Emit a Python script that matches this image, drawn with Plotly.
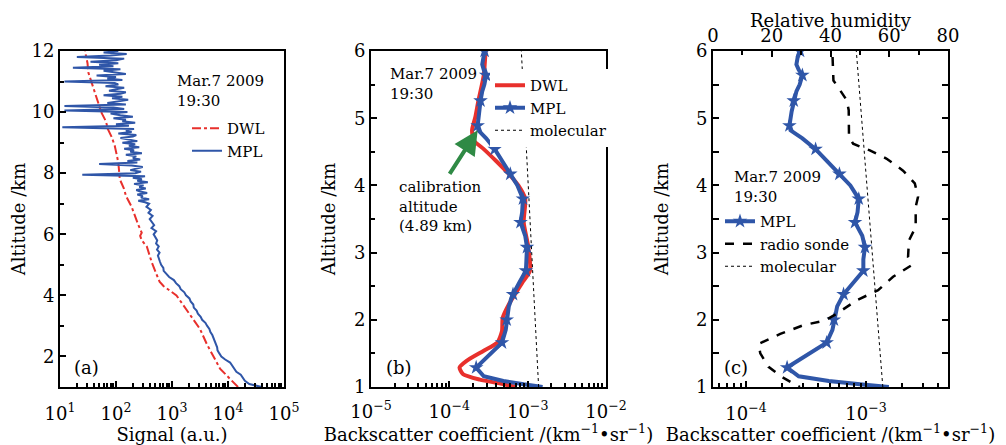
import numpy as np
import plotly.graph_objects as go

FONT = "DejaVu Serif"
RED = "#e8302c"
BLUE = "#2f56a8"
GREEN = "#2f8a45"

# ---------------- Panel (a): raw signals ----------------
alt_a = np.round(np.concatenate([np.arange(1.0, 7.0001, 0.1), np.arange(7.05, 12.0001, 0.05)]), 2)
mpl_signal_a = [
    # 1.0 - 5.0 km (0.1 km)
    39800, 24000, 20000, 18600, 16900, 14100, 12900, 11500, 10900, 8900,
    7600, 7000, 6500, 6400, 6100, 5950, 5550, 5250, 4850, 4650,
    4250, 3950, 3450, 3250, 2900, 2750, 2450, 2400, 2150, 2050,
    1780, 1660, 1430, 1350, 1180, 1080, 890, 810, 710, 700,
    640,
    # 5.1 - 7.0 km (0.1 km)
    610, 590, 560, 600, 540, 580, 520, 545, 500, 470,
    520, 430, 480, 440, 400, 450, 380, 420, 350, 390,
    # 7.05 - 12.0 km (0.05 km)
    330, 250, 390, 280, 300, 240, 360, 270, 230, 340,
    260, 310, 210, 370, 240, 290, 200, 330, 25, 220,
    280, 180, 250, 300, 190, 50, 240, 160, 270, 200,
    230, 150, 290, 180, 210, 140, 260, 170, 220, 130,
    240, 160, 120, 200, 230, 110, 190, 150, 210, 11,
    170, 100, 220, 130, 150, 90, 200, 120, 80, 160,
    12, 140, 90, 12, 150, 70, 110, 165, 85, 130,
    60, 120, 150, 75, 100, 140, 65, 110, 95, 12,
    130, 70, 100, 45, 150, 85, 60, 120, 17, 90,
    50, 110, 35, 100, 140, 20, 80, 155, 60, 110,
]
dwl_alt_a = [1.0, 1.25, 1.47, 1.6, 1.8, 2.0, 2.4, 2.9, 3.55, 4.0, 4.3, 4.45, 4.65,
             5.07, 5.6, 5.8, 5.95, 6.05, 6.3, 6.6, 6.9, 7.25, 7.5, 7.8, 8.1, 8.35,
             8.9, 9.2, 9.43, 9.7, 9.98, 10.5, 10.8, 11.07, 11.3, 11.6, 12.0]
dwl_signal_a = [15100, 11000, 8300, 7200, 6300, 5500, 4200, 3160, 1820, 1200, 710, 600, 540,
                437, 355, 288, 270, 288, 251, 219, 190, 151, 138, 117, 115, 110,
                95, 83, 72, 66, 55, 45, 40, 35, 32, 31, 28]

# ---------------- Panels (b), (c): backscatter ----------------
mpl_alt = [6.00, 5.90, 5.80, 5.72, 5.64, 5.50, 5.40, 5.26, 5.10, 4.89, 4.82, 4.70,
           4.54, 4.35, 4.17, 4.00, 3.80, 3.60, 3.45, 3.25, 3.08, 2.90, 2.73, 2.55,
           2.38, 2.20, 2.00, 1.85, 1.66, 1.50, 1.29, 1.16, 1.09, 1.04, 1.00]
mpl_beta = [2.82e-4, 2.69e-4, 2.63e-4, 2.75e-4, 2.95e-4, 2.8e-4, 2.63e-4, 2.5e-4, 2.4e-4,
            2.3e-4, 2.35e-4, 2.95e-4, 3.8e-4, 4.8e-4, 6.0e-4, 7.4e-4, 8.7e-4, 8.5e-4,
            8.1e-4, 9.3e-4, 9.8e-4, 9.5e-4, 9.5e-4, 7.8e-4, 6.5e-4, 5.75e-4, 5.4e-4,
            5.25e-4, 4.7e-4, 3.4e-4, 2.2e-4, 2.75e-4, 4.9e-4, 8.9e-4, 1.55e-3]
mpl_star_alt = [6.00, 5.64, 5.26, 4.89, 4.54, 4.17, 3.80, 3.45, 3.08, 2.73, 2.38,
                2.00, 1.66, 1.29]

dwl_alt = [6.00, 5.64, 5.26, 5.02, 4.82, 4.67, 4.54, 4.37, 4.17, 4.00, 3.80, 3.45,
           3.08, 2.73, 2.55, 2.38, 2.23, 2.03, 1.83, 1.66, 1.54, 1.39, 1.29, 1.19,
           1.11, 1.05, 1.00]
dwl_beta = [2.9e-4, 2.75e-4, 2.35e-4, 2.15e-4, 1.95e-4, 2.05e-4, 2.75e-4, 3.9e-4,
            5.75e-4, 7.6e-4, 9.3e-4, 8.9e-4, 1.02e-3, 1.07e-3, 8.5e-4, 6.9e-4,
            5.75e-4, 4.8e-4, 4.7e-4, 4.1e-4, 2.75e-4, 1.66e-4, 1.35e-4, 1.5e-4,
            2.45e-4, 4.5e-4, 7.1e-4]

mol_alt = [1, 2, 3, 4, 5, 6]
mol_beta = [1.38e-3, 1.25e-3, 1.13e-3, 1.02e-3, 9.2e-4, 8.3e-4]

rh_alt = [5.91, 5.56, 5.46, 5.27, 5.12, 4.72, 4.62, 4.52, 4.40, 4.22, 4.03, 3.83,
          3.68, 3.38, 3.18, 2.93, 2.81, 2.64, 2.44, 2.29, 2.09, 1.99, 1.92, 1.79,
          1.64, 1.50, 1.30, 1.15, 1.05, 1.00]
rh_val = [40.7, 41.0, 42.6, 45.5, 46.2, 46.3, 47.7, 53.4, 59.0, 64.7, 68.7, 69.8,
          69.0, 69.0, 66.7, 66.4, 67.5, 61.3, 56.2, 48.9, 42.1, 38.1, 30.8, 22.9,
          15.5, 16.1, 18.9, 23.4, 27.4, 29.6]

sig_ticks = [1e1, 1e2, 1e3, 1e4, 1e5]
sig_ticktext = ["10<sup>1</sup>", "10<sup>2</sup>", "10<sup>3</sup>", "10<sup>4</sup>", "10<sup>5</sup>"]
beta_ticks = [1e-5, 1e-4, 1e-3, 1e-2]
beta_ticktext = ["10<sup>−5</sup>", "10<sup>−4</sup>", "10<sup>−3</sup>", "10<sup>−2</sup>"]

star_idx = [i for i, a in enumerate(mpl_alt) if a in mpl_star_alt]
star_style = dict(marker=dict(symbol="star", size=11, color=BLUE),
                  selectedpoints=star_idx,
                  selected=dict(marker=dict(opacity=1)),
                  unselected=dict(marker=dict(opacity=0)))

fig = go.Figure()

# (a)
fig.add_trace(go.Scatter(x=dwl_signal_a, y=dwl_alt_a, mode="lines", name="DWL",
                         line=dict(color=RED, width=2, dash="dashdot"),
                         xaxis="x", yaxis="y", legend="legend"))
fig.add_trace(go.Scatter(x=mpl_signal_a, y=alt_a, mode="lines", name="MPL",
                         line=dict(color=BLUE, width=2),
                         xaxis="x", yaxis="y", legend="legend"))

# (b)
fig.add_trace(go.Scatter(x=dwl_beta, y=dwl_alt, mode="lines", name="DWL",
                         line=dict(color=RED, width=4, shape="spline", smoothing=0.6),
                         xaxis="x2", yaxis="y2", legend="legend2"))
fig.add_trace(go.Scatter(x=mpl_beta, y=mpl_alt, mode="lines+markers", name="MPL",
                         line=dict(color=BLUE, width=4), **star_style,
                         xaxis="x2", yaxis="y2", legend="legend2"))
fig.add_trace(go.Scatter(x=mol_beta, y=mol_alt, mode="lines", name="molecular",
                         line=dict(color="black", width=1, dash="dot"),
                         xaxis="x2", yaxis="y2", legend="legend2"))

# (c)
fig.add_trace(go.Scatter(x=mpl_beta, y=mpl_alt, mode="lines+markers", name="MPL",
                         line=dict(color=BLUE, width=4), **star_style,
                         xaxis="x3", yaxis="y3", legend="legend3"))
fig.add_trace(go.Scatter(x=rh_val, y=rh_alt, mode="lines", name="radio sonde",
                         line=dict(color="black", width=2.5, dash="dash"),
                         xaxis="x4", yaxis="y3", legend="legend3"))
fig.add_trace(go.Scatter(x=mol_beta, y=mol_alt, mode="lines", name="molecular",
                         line=dict(color="black", width=1, dash="dot"),
                         xaxis="x3", yaxis="y3", legend="legend3"))

# page body adds an 8 px margin; figure positions are given in window pixels
OFF = 8
W, H = 1006 - OFF, 445 - OFF


def X(sx):
    return (sx - OFF) / W


def Y(sy):
    return 1 - (sy - OFF) / H


YDOM = [Y(387), Y(51)]
tickfont = dict(family=FONT, size=18, color="black")
titlefont = dict(family=FONT, size=18, color="black")

common = dict(showline=True, linecolor="black", linewidth=2, showgrid=False, zeroline=False,
              ticks="inside", ticklen=6, tickwidth=1.5, tickcolor="black", tickfont=tickfont,
              automargin=False)
minor_log = dict(ticks="inside", ticklen=4, tickcolor="black", dtick="D1")

fig.update_layout(
    width=W, height=H,
    margin=dict(l=0, r=0, t=0, b=0),
    paper_bgcolor="white", plot_bgcolor="white",
    font=dict(family=FONT, color="black"),
    xaxis=dict(domain=[X(60), X(284)], type="log", range=[1, 5], mirror=True,
               tickmode="array", tickvals=sig_ticks, ticktext=sig_ticktext,
               minor=minor_log, ticklabelstandoff=9,
               title=dict(text="Signal (a.u.)", font=titlefont, standoff=0),
               anchor="y", **common),
    yaxis=dict(domain=YDOM, range=[1, 12], mirror=True, tickmode="array",
               tickvals=[2, 4, 6, 8, 10, 12],
               minor=dict(ticks="inside", ticklen=4, tickcolor="black", dtick=1),
               title=dict(text="Altitude /km", font=titlefont, standoff=5),
               anchor="x", **common),
    xaxis2=dict(domain=[X(371), X(606)], type="log", range=[-5, -2], mirror=True,
                tickmode="array", tickvals=beta_ticks, ticktext=beta_ticktext,
                minor=minor_log, ticklabelstandoff=7,
                title=dict(text="Backscatter coefficient /(km<sup>−1</sup>•sr<sup>−1</sup>)",
                           font=titlefont, standoff=1),
                anchor="y2", **common),
    yaxis2=dict(domain=YDOM, range=[1, 6], mirror=True, dtick=1,
                minor=dict(ticks="inside", ticklen=4, tickcolor="black", dtick=0.5),
                title=dict(text="Altitude /km", font=titlefont, standoff=14),
                anchor="x2", **common),
    xaxis3=dict(domain=[X(713), X(948)], type="log", range=[-4.275, -2.317], mirror=True,
                tickmode="array", tickvals=[1e-4, 1e-3],
                ticktext=["10<sup>−4</sup>", "10<sup>−3</sup>"],
                minor=minor_log, ticklabelstandoff=9,
                title=dict(text="Backscatter coefficient /(km<sup>−1</sup>•sr<sup>−1</sup>)",
                           font=titlefont, standoff=0),
                anchor="y3", **common),
    xaxis4=dict(overlaying="x3", side="top", range=[0, 80], dtick=20,
                minor=dict(ticks="inside", ticklen=4, tickcolor="black", dtick=10),
                anchor="y3", **common),
    yaxis3=dict(domain=YDOM, range=[1, 6], mirror="ticks", dtick=1,
                minor=dict(ticks="inside", ticklen=6, tickcolor="black", dtick=0.5),
                title=dict(text="Altitude /km", font=titlefont, standoff=23),
                anchor="x3", **common),
    legend=dict(x=X(187), y=Y(112), xanchor="left", yanchor="top",
                bgcolor="rgba(0,0,0,0)", font=dict(family=FONT, size=15, color="black"),
                itemwidth=30, tracegroupgap=0),
    legend2=dict(x=X(490), y=Y(69), xanchor="left", yanchor="top",
                 bgcolor="white", font=dict(family=FONT, size=15, color="black"),
                 itemwidth=30, tracegroupgap=0),
    legend3=dict(x=X(720), y=Y(205), xanchor="left", yanchor="top",
                 bgcolor="rgba(0,0,0,0)", font=dict(family=FONT, size=15, color="black"),
                 itemwidth=30, tracegroupgap=0),
    showlegend=True,
)

ann_font = dict(family=FONT, size=15, color="black")
lab_font = dict(family=FONT, size=18, color="black")
annotations = [
    dict(text="Relative humidity", x=X(830.5), y=Y(8), xref="paper", yref="paper",
         xanchor="center", yanchor="top", showarrow=False, font=titlefont),
    dict(text="Mar.7 2009<br>19:30", x=X(175), y=Y(70), xref="paper", yref="paper",
         xanchor="left", yanchor="top", showarrow=False, align="left", font=ann_font),
    dict(text="Mar.7 2009<br>19:30", x=X(388), y=Y(63), xref="paper", yref="paper",
         xanchor="left", yanchor="top", showarrow=False, align="left", font=ann_font),
    dict(text="Mar.7 2009<br>19:30", x=X(732), y=Y(166), xref="paper", yref="paper",
         xanchor="left", yanchor="top", showarrow=False, align="left", font=ann_font),
    dict(text="(a)", x=X(72), y=Y(367), xref="paper", yref="paper", xanchor="left",
         yanchor="middle", showarrow=False, font=lab_font),
    dict(text="(b)", x=X(384), y=Y(367), xref="paper", yref="paper", xanchor="left",
         yanchor="middle", showarrow=False, font=lab_font),
    dict(text="(c)", x=X(722), y=Y(367), xref="paper", yref="paper", xanchor="left",
         yanchor="middle", showarrow=False, font=lab_font),
    dict(text="calibration<br>altitude<br>(4.89 km)", x=X(397), y=Y(176),
         xref="paper", yref="paper", xanchor="left", yanchor="top", showarrow=False,
         align="left", font=ann_font),
    dict(text="", x=np.log10(2.3e-4), y=4.82, xref="x2", yref="y2", showarrow=True,
         ax=-29, ay=45, arrowhead=2, arrowsize=1.2, arrowwidth=4, arrowcolor=GREEN),
]
fig.update_layout(annotations=annotations)

fig.write_html("out.html")
